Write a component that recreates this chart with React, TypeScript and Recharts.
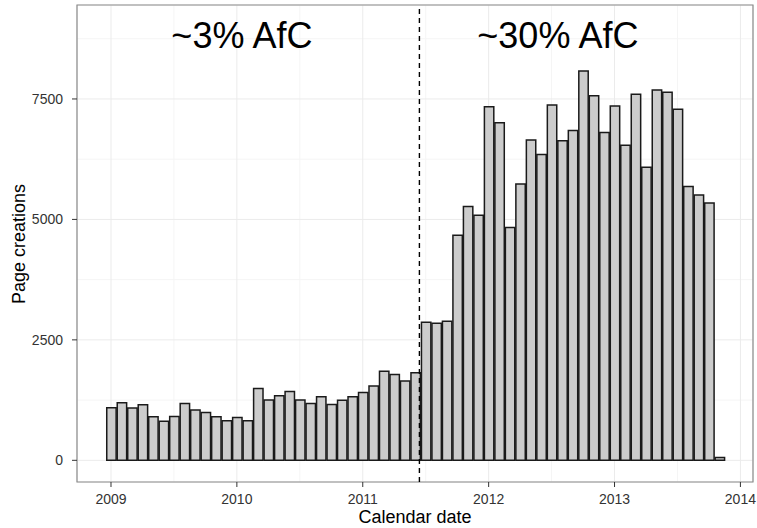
import {
  BarChart,
  Bar,
  XAxis,
  YAxis,
  CartesianGrid,
  ReferenceLine,
  ReferenceArea,
  ReferenceDot,
} from "recharts";

// monthly page creations, Jan 2009 .. Nov 2013
const years = [2009, 2010, 2011, 2012, 2013];
const counts = [
  // 2009
  1090, 1195, 1085, 1155, 905, 810, 910, 1180, 1045, 990, 905, 820,
  // 2010
  890, 820, 1490, 1250, 1340, 1430, 1250, 1180, 1320, 1160, 1245, 1320,
  // 2011
  1410, 1540, 1850, 1780, 1645, 1815, 2865, 2845, 2885, 4670, 5270, 5085,
  // 2012
  7340, 7005, 4830, 5735, 6650, 6345, 7375, 6630, 6845, 8080, 7565, 6805,
  // 2013
  7355, 6540, 7600, 6085, 7685, 7640, 7285, 5685, 5505, 5340, 60,
];

const xTicks = [2009, 2010, 2011, 2012, 2013, 2014];
const xMinor = [2009.5, 2010.5, 2011.5, 2012.5, 2013.5];
const yTicks = [0, 2500, 5000, 7500];
const yMinor = [1250, 3750, 6250, 8750];

const cutoff = 2011.45;
const annotations = [
  { x: 2010.04, text: "~3% AfC" },
  { x: 2012.55, text: "~30% AfC" },
];

const xDomain = [2008.73, 2014.1];
const yDomain = [-450, 9450];

const data = counts.map((v, i) => ({
  t: years[0] + i / 12,
  creations: v,
}));

const font = "'Liberation Sans', Arial, Helvetica, sans-serif";

export default function App() {
  return (
    <div style={{ position: "fixed", left: 0, top: 0, background: "#fff" }}>
      <BarChart
        width={757}
        height={528}
        data={data}
        margin={{ top: 5, right: 4, bottom: 0, left: 0 }}
      >
        {/* minor grid first, major on top of it */}
        <CartesianGrid
          stroke="#f5f5f5"
          horizontalValues={yMinor}
          verticalValues={xMinor}
        />
        <CartesianGrid stroke="#ebebeb" />
        <XAxis
          dataKey="t"
          type="number"
          domain={xDomain}
          ticks={xTicks}
          allowDataOverflow
          height={46}
          axisLine={false}
          tickSize={5}
          tickMargin={7}
          tickLine={{ stroke: "#333" }}
          tick={{ fill: "#333", fontSize: 14, fontFamily: font }}
          label={{
            content: () => (
              <text
                x={415}
                y={523}
                textAnchor="middle"
                fontSize={18}
                fontFamily={font}
                fill="#000"
              >
                Calendar date
              </text>
            ),
          }}
        />
        <YAxis
          type="number"
          domain={yDomain}
          ticks={yTicks}
          allowDataOverflow
          width={77}
          axisLine={false}
          tickSize={5}
          tickMargin={9}
          tickLine={{ stroke: "#333" }}
          tick={{ fill: "#333", fontSize: 14, fontFamily: font }}
          label={{
            content: () => (
              <text
                x={25}
                y={244}
                transform="rotate(-90, 25, 244)"
                textAnchor="middle"
                fontSize={18}
                fontFamily={font}
                fill="#000"
              >
                Page creations
              </text>
            ),
          }}
        />
        <Bar
          dataKey="creations"
          barSize={9.4}
          fill="#cccccc"
          stroke="#1a1a1a"
          strokeWidth={1.5}
          isAnimationActive={false}
        />
        <ReferenceLine
          x={cutoff}
          stroke="#000"
          strokeWidth={1.4}
          strokeDasharray="5 4"
        />
        {annotations.map(a => (
          <ReferenceDot
            key={a.text}
            x={a.x}
            y={8750}
            r={0}
            fill="none"
            stroke="none"
            label={{
              content: (p: any) => (
                <text
                  x={p.viewBox ? p.viewBox.x + p.viewBox.width / 2 : 0}
                  y={48}
                  textAnchor="middle"
                  fontSize={36}
                  fontFamily={font}
                  fill="#000"
                >
                  {a.text}
                </text>
              ),
            }}
          />
        ))}
        <ReferenceArea
          x1={xDomain[0]}
          x2={xDomain[1]}
          y1={yDomain[0]}
          y2={yDomain[1]}
          fill="none"
          stroke="#8c8c8c"
          strokeWidth={1.2}
        />
      </BarChart>
    </div>
  );
}
